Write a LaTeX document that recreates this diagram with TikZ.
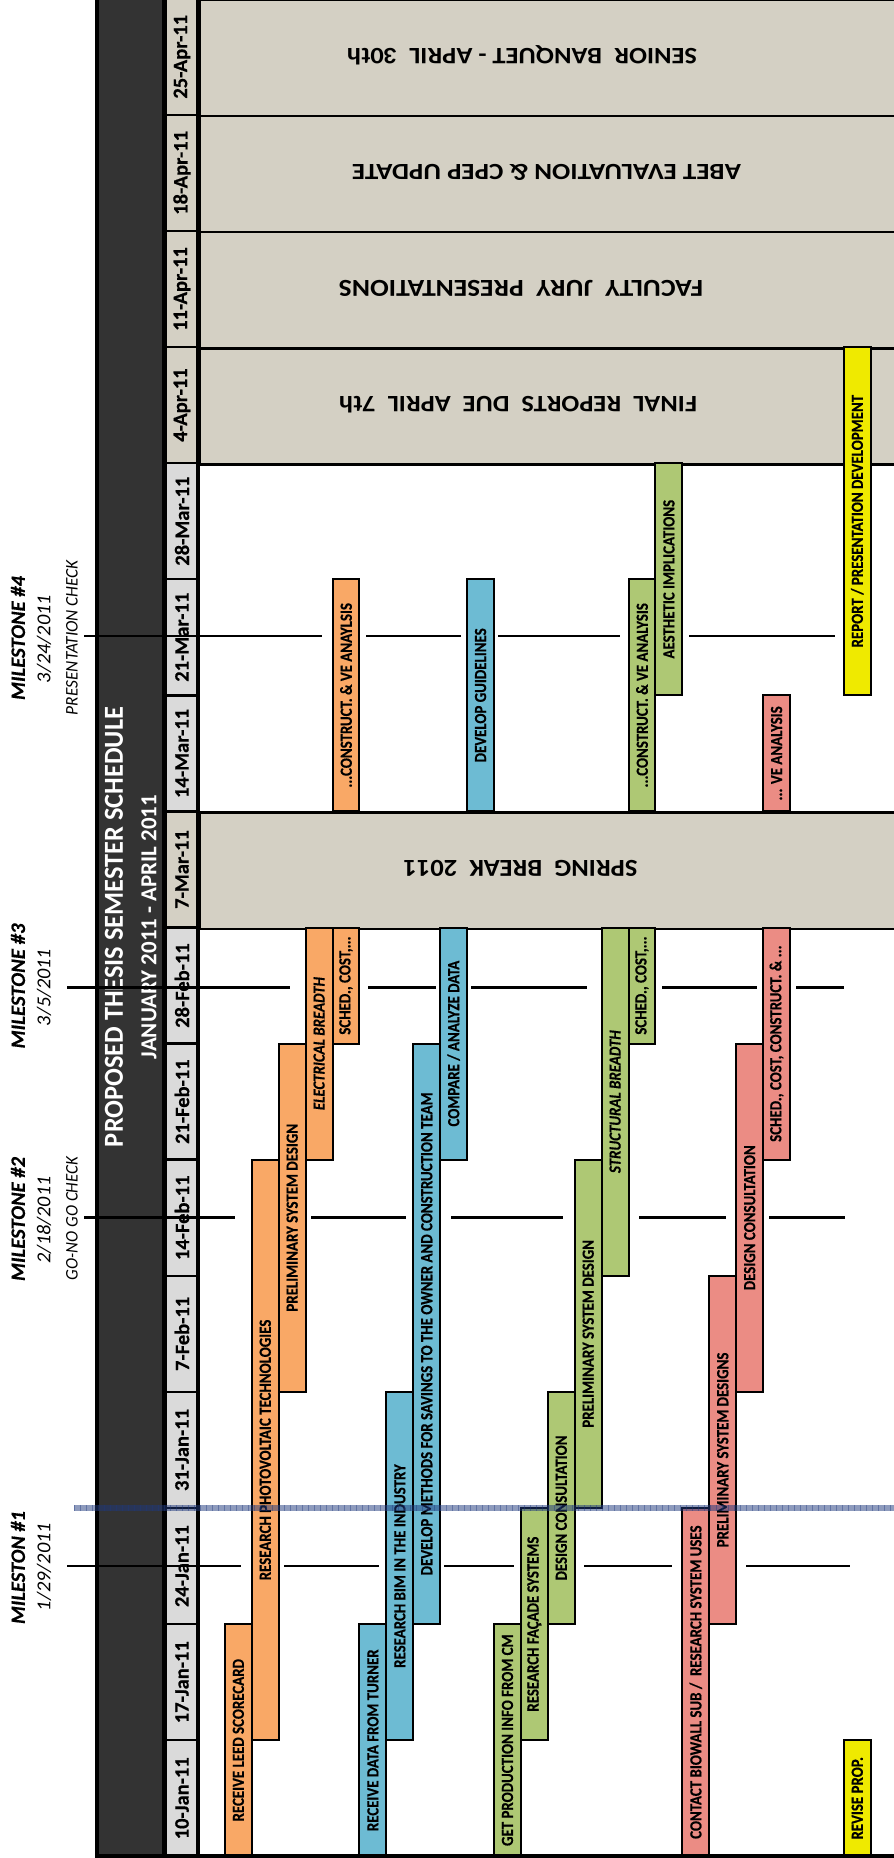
\documentclass[tikz,border=0pt]{standalone}
\usepackage{fontspec}
\usepackage{graphicx}
\setmainfont{Carlito}
\newfontfamily\heavyfam{Carlito}[BoldFeatures={FakeBold=0.5},BoldItalicFeatures={FakeBold=0.5}]
\definecolor{gOrange}{HTML}{F9A866}
\definecolor{gBlue}{HTML}{6DBBD3}
\definecolor{gGreen}{HTML}{AEC874}
\definecolor{gRed}{HTML}{EB8C84}
\definecolor{gYellow}{HTML}{EFEA00}
\definecolor{beige}{HTML}{D4D0C4}
\definecolor{dategray}{HTML}{DADADA}
\definecolor{darkbar}{HTML}{333333}
\definecolor{navyband}{RGB}{31,56,125}
\newcommand\datefont{\heavyfam\fontsize{20.5}{24}\selectfont\bfseries}
\newcommand\barfont{\heavyfam\fontsize{17}{20}\selectfont\bfseries}
\newcommand\gbar[6]{\node[barbox, fill=#5, minimum width={116.1*(#4-#3)}] (#1) at ({198+26.91*(#2+0.5)},{1856.3-58.05*(#3+#4)}) {\scalebox{0.875}[1]{#6}};}
\tikzset{
  barbox/.style={draw=black, line width=2pt, inner sep=0pt, rotate=90, minimum height=26.91, font=\barfont, text=black},
  datecell/.style={draw=black, line width=2.5pt, inner sep=0pt, rotate=90, minimum height=32, minimum width=116.1, font=\datefont},
  blockbox/.style={draw=black, line width=2.5pt, fill=beige, inner sep=0pt, minimum width=702, minimum height=116.1, anchor=north west},
  blocktext/.style={rotate=180, inner sep=0pt, font=\bfseries},
  mlabel/.style={rotate=90, inner sep=0pt},
  msline/.style={draw=black, line width=2.2pt},
}
\begin{document}
\begin{tikzpicture}[x=1pt,y=-1pt]
\useasboundingbox (0,0) rectangle (894,1858);
\fill[white] (0,0) rectangle (894,1858);
% dark title bar
\fill[darkbar] (97,-3) rectangle (164,1856);
% date cells
\foreach \t/\c [count=\i from 0] in {10-Jan-11/dategray,17-Jan-11/dategray,24-Jan-11/dategray,31-Jan-11/dategray,7-Feb-11/dategray,14-Feb-11/dategray,21-Feb-11/dategray,28-Feb-11/dategray,7-Mar-11/beige,14-Mar-11/dategray,21-Mar-11/dategray,28-Mar-11/dategray,4-Apr-11/beige,11-Apr-11/beige,18-Apr-11/beige,25-Apr-11/beige}{
  \node[datecell, fill=\c] (d\i) at (182,{1856.3-116.1*(\i+0.5)}) {\t};
}
% beige blocks
\foreach \k/\n in {8/bsb,12/bfin,13/bjury,14/babet,15/bsen}{
  \node[blockbox] (\n) at (198,{1856.3-116.1*(\k+1)}) {};
}
\node[blocktext] (tsen) at (522,55.5) {\resizebox{350pt}{16.5pt}{SENIOR\ \ BANQUET - APRIL\ \ 30th}};
\node[blocktext] (tabet) at (546.5,172) {\resizebox{389pt}{16pt}{ABET EVALUATION \& CPEP UPDATE}};
\node[blocktext] (tjury) at (521,288.5) {\resizebox{364pt}{16pt}{FACULTY\ \ JURY\ \ PRESENTATIONS}};
\node[blocktext] (tfin) at (518,405) {\resizebox{358pt}{16.5pt}{FINAL\ \ REPORTS\ \ DUE\ \ APRIL\ \ 7th}};
\node[blocktext] (tsb) at (520.5,868.5) {\resizebox{234pt}{16pt}{SPRING\ \ BREAK\ \ 2011}};
% bars
\gbar{leed}{1}{0}{2}{gOrange}{RECEIVE LEED SCORECARD}
\gbar{pv}{2}{1}{6}{gOrange}{RESEARCH PHOTOVOLTAIC TECHNOLOGIES}
\gbar{prelo}{3}{4}{7}{gOrange}{PRELIMINARY SYSTEM DESIGN}
\gbar{elec}{4}{6}{8}{gOrange}{\itshape ELECTRICAL BREADTH}
\gbar{scho}{5}{7}{8}{gOrange}{SCHED., COST,...}
\gbar{cono}{5}{9}{11}{gOrange}{...CONSTRUCT. \& VE ANAYLSIS}
\gbar{rdt}{6}{0}{2}{gBlue}{RECEIVE DATA FROM TURNER}
\gbar{bim}{7}{1}{4}{gBlue}{RESEARCH BIM IN THE INDUSTRY}
\gbar{dev}{8}{2}{7}{gBlue}{DEVELOP METHODS FOR SAVINGS TO THE OWNER AND CONSTRUCTION TEAM}
\gbar{cmp}{9}{6}{8}{gBlue}{COMPARE / ANALYZE DATA}
\gbar{gdl}{10}{9}{11}{gBlue}{DEVELOP GUIDELINES}
\gbar{gpi}{11}{0}{2}{gGreen}{GET PRODUCTION INFO FROM CM}
\gbar{fac}{12}{1}{3}{gGreen}{RESEARCH FAÇADE SYSTEMS}
\gbar{dcg}{13}{2}{4}{gGreen}{DESIGN CONSULTATION}
\gbar{prg}{14}{3}{6}{gGreen}{PRELIMINARY SYSTEM DESIGN}
\gbar{str}{15}{5}{8}{gGreen}{\itshape STRUCTURAL BREADTH}
\gbar{schg}{16}{7}{8}{gGreen}{SCHED., COST,...}
\gbar{cong}{16}{9}{11}{gGreen}{...CONSTRUCT. \& VE ANALYSIS}
\gbar{aes}{17}{10}{12}{gGreen}{AESTHETIC IMPLICATIONS}
\gbar{bio}{18}{0}{3}{gRed}{CONTACT BIOWALL SUB /\ \ RESEARCH SYSTEM USES}
\gbar{prr}{19}{2}{5}{gRed}{PRELIMINARY SYSTEM DESIGNS}
\gbar{dcr}{20}{4}{7}{gRed}{DESIGN CONSULTATION}
\gbar{schr}{21}{6}{8}{gRed}{SCHED., COST, CONSTRUCT. \& ...}
\gbar{ver}{21}{9}{10}{gRed}{... VE ANALYSIS}
\gbar{rev}{24}{0}{1}{gYellow}{REVISE PROP.}
\gbar{rep}{24}{10}{13}{gYellow}{REPORT / PRESENTATION DEVELOPMENT}
% frame lines
\draw[line width=4pt] (97,-3) -- (97,1856);
\draw[line width=4pt] (164,-3) -- (164,1856);
\draw[line width=4pt] (197.8,-3) -- (197.8,1856);
\draw[line width=4pt] (95,1856) -- (896,1856);
% title
\node[mlabel, text=white] (title) at (114,927) {\resizebox{440pt}{18pt}{\bfseries PROPOSED THESIS SEMESTER SCHEDULE}};
\node[mlabel, text=white] (subtitle) at (149,927) {\resizebox{264pt}{15pt}{\bfseries JANUARY 2011 - APRIL 2011}};
% milestone lines
\foreach \a/\b in {84/322,366/461,498/620,689/835} \draw[msline] (\a,636.3) -- (\b,636.3);
\foreach \a/\b in {67/290,368/436,471/587,662/757,796/844} \draw[msline] (\a,987.5) -- (\b,987.5);
\foreach \a/\b in {84/235,311/406,451/563,639/726,769/845} \draw[msline] (\a,1217.5) -- (\b,1217.5);
\foreach \a/\b in {67/241,284/379,444/514,584/672,746/850} \draw[msline] (\a,1566.3) -- (\b,1566.3);
% milestone labels
\node[mlabel] (m4a) at (18,638) {\resizebox{124pt}{14pt}{\heavyfam\bfseries\itshape MILESTONE \#4}};
\node[mlabel] (m4b) at (44,639) {\resizebox{88pt}{13.5pt}{\itshape 3/24/2011}};
\node[mlabel] (m4c) at (72,637.5) {\resizebox{155pt}{11.5pt}{\itshape PRESENTATION CHECK}};
\node[mlabel] (m3a) at (18,986) {\resizebox{125pt}{14pt}{\heavyfam\bfseries\itshape MILESTONE \#3}};
\node[mlabel] (m3b) at (44,987.5) {\resizebox{77pt}{13.5pt}{\itshape 3/5/2011}};
\node[mlabel] (m2a) at (18,1219) {\resizebox{124pt}{14pt}{\heavyfam\bfseries\itshape MILESTONE \#2}};
\node[mlabel] (m2b) at (44,1220) {\resizebox{87pt}{13.5pt}{\itshape 2/18/2011}};
\node[mlabel] (m2c) at (72,1218.5) {\resizebox{123pt}{11.5pt}{\itshape GO-NO GO CHECK}};
\node[mlabel] (m1a) at (18,1567.5) {\resizebox{113pt}{14pt}{\heavyfam\bfseries\itshape MILESTON \#1}};
\node[mlabel] (m1b) at (44,1567) {\resizebox{88pt}{13.5pt}{\itshape 1/29/2011}};
% navy band
\fill[navyband, opacity=0.5] (74,1505.2) rectangle (894,1510.8);
\draw[navyband, opacity=0.4, line width=5.6pt, dash pattern=on 1.2pt off 4.8pt] (74,1508) -- (894,1508);
\end{tikzpicture}
\end{document}
